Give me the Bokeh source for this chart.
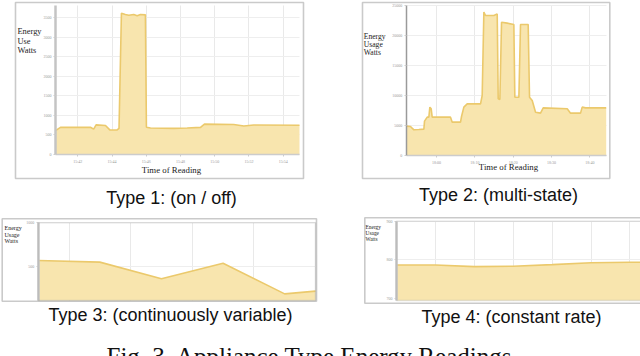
from bokeh.plotting import figure
from bokeh.models import BoxAnnotation, Label, FixedTicker, Range1d, GlobalInlineStyleSheet
from bokeh.layouts import column, row
from bokeh.embed import file_html
from bokeh.resources import INLINE

# ---------------- data ----------------
# Type 1 (on / off): minutes relative to first tick, watts
t1_minutes = [-1.30, -1.01, 0.74, 0.93, 1.07, 1.62, 1.87, 2.30, 2.41, 2.55, 2.78, 2.98, 3.27,
              3.47, 3.66, 3.95, 4.01, 4.25, 5.61, 6.39, 7.17, 7.40, 9.11, 9.70, 10.28, 12.95]
t1_watts = [610, 695, 700, 650, 760, 745, 630, 630, 670, 3620, 3590, 3570, 3590,
            3560, 3590, 3580, 700, 680, 670, 680, 695, 780, 770, 730, 755, 750]
t1_ticks = [0, 2, 4, 6, 8, 10, 12]
t1_tick_labels = ["15:42", "15:44", "15:46", "15:48", "15:50", "15:52", "15:54"]
t1_yticks = [0, 500, 1000, 1500, 2000, 2500, 3000, 3500]

# Type 2 (multi-state): minutes relative to 18:00, watts
t2_minutes = [-7.91, -6.78, -6.35, -5.91, -4.61, -3.30, -3.13, -2.43, -2.00, -1.74, -1.39, -1.13,
              3.65, 4.09, 6.26, 6.52, 7.13, 8.00, 11.48, 11.91, 12.35, 12.78, 14.96, 15.83,
              16.09, 16.52, 16.96, 18.43, 20.17, 20.43, 21.48, 21.91, 23.91, 24.26, 24.96,
              25.83, 27.13, 27.83, 34.09, 34.96, 37.57, 38.00, 38.87, 44.26]
t2_watts = [4900, 4830, 4550, 4280, 4330, 4390, 5720, 6390, 6390, 8060, 7780, 6390,
            6390, 5560, 5560, 6500, 8060, 8610, 8610, 10000, 23900, 23330, 23330, 23600,
            9440, 9330, 22220, 22060, 21830, 9720, 9720, 21830, 21830, 9720, 9170,
            7220, 7060, 7940, 7780, 7060, 7060, 8060, 7940, 7940]
t2_ticks = [0, 10, 20, 30, 40]
t2_tick_labels = ["18:00", "18:10", "18:20", "18:30", "18:40"]
t2_yticks = [0, 5000, 10000, 15000, 20000, 25000]

# Type 3 (continuously variable)
t3_x = [0.5, 1.5, 2.5, 3.5, 4.5, 5.0]
t3_watts = [569, 550, 359, 538, 187, 218]
t3_xticks = [1, 2, 3, 4, 5]
t3_yticks = [500, 1000]

# Type 4 (constant rate)
t4_x = [0, 1, 2, 3, 4, 5, 6, 7]
t4_watts = [787, 787, 783, 784, 788, 793, 794, 795]
t4_xticks = [1, 2, 3, 4, 5, 6]
t4_yticks = [700, 800, 900]

captions = ["Type 1: (on / off)", "Type 2: (multi-state)",
            "Type 3: (continuously variable)", "Type 4: (constant rate)"]
ylabel_1 = ["Energy", "Use", "Watts"]
ylabel_n = ["Energy", "Usage", "Watts"]
xlabel = "Time of Reading"
fig_caption = "Fig. 3. Appliance Type Energy Readings"

FILL = "#F8E5AE"
LINE = "#EBC96C"
SERIF = "Liberation Serif"
SANS = "Liberation Sans"


def panel(w, h, region, xr, yr):
    """Figure whose frame is the whole canvas; the chart's plot region is
    placed at pixel box `region` (left, right, top, bottom) by choosing ranges."""
    L, R, T, B = region
    x0, x1 = xr
    y0, y1 = yr
    sx = (x1 - x0) / (R - L)
    sy = (y1 - y0) / (B - T)
    p = figure(width=w, height=h,
               x_range=Range1d(x0 - L * sx, x1 + (w - R) * sx),
               y_range=Range1d(y0 - (h - B) * sy, y1 + T * sy),
               output_backend="svg", toolbar_location=None,
               min_border_left=0, min_border_right=0, min_border_top=0, min_border_bottom=0)
    p.outline_line_color = None
    p.border_fill_color = "white"
    p.background_fill_color = "white"
    p.xaxis.fixed_location = y0
    p.yaxis.fixed_location = x0
    p.xaxis.bounds = (x0, x1)
    p.yaxis.bounds = (y0, y1)
    for ax in (p.xaxis[0], p.yaxis[0]):
        ax.major_label_text_font_size = "4px"
        ax.major_label_text_color = "#999999"
        ax.major_label_text_font = SERIF
        ax.major_tick_in = 0
        ax.major_tick_out = 2
        ax.minor_tick_out = 0
        ax.minor_tick_in = 0
        ax.major_tick_line_color = "#cccccc"
        ax.major_label_standoff = 2
    p.yaxis.axis_line_color = "#c4c4c4"
    p.yaxis.axis_line_width = 2.5
    p.xaxis.axis_line_color = "#cccccc"
    p.xaxis.axis_line_width = 1.5
    p.xgrid.grid_line_color = "#e9e9e9"
    p.ygrid.grid_line_color = "#eeeeee"
    p.xgrid.bounds = (x0, x1)
    p.ygrid.bounds = (y0, y1)
    try:
        p.xgrid.cross_bounds = (y0, y1)
        p.ygrid.cross_bounds = (x0, x1)
    except Exception:
        pass
    return p


def area(p, x, y, base):
    p.varea(x=x, y1=[base] * len(x), y2=y, fill_color=FILL, fill_alpha=1)
    p.line(x, y, line_color=LINE, line_width=1.6)


def box(p, l, r, t, b, color="#505050", width=1.6):
    p.add_layout(BoxAnnotation(left=l, right=r, top=t, bottom=b,
                               left_units="canvas", right_units="canvas",
                               top_units="canvas", bottom_units="canvas",
                               fill_color=None, fill_alpha=0,
                               line_color=color, line_width=width))


def text(p, x, y, s, size, font, color="#222222", align="left"):
    p.add_layout(Label(x=x, y=y, x_units="canvas", y_units="canvas", text=s,
                       text_font=font, text_font_size=size, text_color=color,
                       text_align=align, text_baseline="alphabetic"))


# ---- panel 1 ----
r1 = (55, 299, 5, 154)
p1 = panel(330, 212, r1, (-1.30, 12.95), (0, 3820))
area(p1, t1_minutes, t1_watts, 0)
p1.xaxis.ticker = FixedTicker(ticks=t1_ticks)
p1.xaxis.major_label_overrides = dict(zip(t1_ticks, t1_tick_labels))
p1.yaxis.ticker = FixedTicker(ticks=t1_yticks)
box(p1, 15, 303, 2, 178)
for i, s in enumerate(ylabel_1):
    text(p1, 17, 31.3 + 9.4 * i, s, "8.4px", SERIF)
text(p1, 171, 169, xlabel, "8.8px", SERIF, align="center")
text(p1, 171, 197, captions[0], "18px", SANS, color="#111111", align="center")

# ---- panel 2 ----
r2 = (75.7, 275.7, 5, 155)
p2 = panel(310, 212, r2, (-7.91, 44.26), (0, 25000))
area(p2, t2_minutes, t2_watts, 0)
p2.xaxis.ticker = FixedTicker(ticks=t2_ticks)
p2.xaxis.major_label_overrides = dict(zip(t2_ticks, t2_tick_labels))
p2.yaxis.ticker = FixedTicker(ticks=t2_yticks)
p2.yaxis.axis_line_color = "#9a9a9a"
p2.yaxis.axis_line_width = 1.5
box(p2, 32, 279.3, 2, 178)
for i, s in enumerate(ylabel_n):
    text(p2, 33.3, 35.5 + 8 * i, s, "7.6px", SERIF)
text(p2, 178, 166, xlabel, "8.8px", SERIF, align="center")
text(p2, 168, 194, captions[1], "18px", SANS, color="#111111", align="center")

# ---- panel 3 ----
r3 = (37.7, 315, 10.3, 88)
p3 = panel(330, 118, r3, (0.5, 5.0), (111, 1000))
area(p3, t3_x, t3_watts, 111)
p3.xaxis.ticker = FixedTicker(ticks=t3_xticks)
p3.xaxis.visible = False
p3.yaxis.ticker = FixedTicker(ticks=t3_yticks)
box(p3, r3[0], r3[1], r3[2], r3[3], color="#aaaaaa", width=1.5)
box(p3, 1.7, 316, 6.3, 88.7)
for i, s in enumerate(ylabel_n):
    text(p3, 4, 15.3 + 6.7 * i, s, "6px", SERIF)
text(p3, 170, 102, captions[2], "18px", SANS, color="#111111", align="center")

# ---- panel 4 ----
r4 = (66, 310, 8.7, 88)
p4 = panel(310, 118, r4, (0, 6.27), (695.6, 900))
area(p4, t4_x, t4_watts, 695.6)
p4.xaxis.ticker = FixedTicker(ticks=t4_xticks)
p4.xaxis.visible = False
p4.yaxis.ticker = FixedTicker(ticks=t4_yticks)
box(p4, r4[0], r4[1] + 5, r4[2], r4[3], color="#aaaaaa", width=1.5)
box(p4, 34.3, 330, 5.3, 90.7)
for i, s in enumerate(ylabel_n):
    text(p4, 35, 14.5 + 5.8 * i, s, "5.4px", SERIF)
text(p4, 181, 104, captions[3], "18px", SANS, color="#111111", align="center")

# ---- figure caption strip ----
p5 = figure(width=640, height=26, x_range=Range1d(0, 1), y_range=Range1d(0, 1),
            output_backend="svg", toolbar_location=None,
            min_border_left=0, min_border_right=0, min_border_top=0, min_border_bottom=0)
p5.axis.visible = False
p5.grid.visible = False
p5.outline_line_color = None
text(p5, 106, 25.5, fig_caption, "25px", SERIF, color="#111111")

layout = column(row(p1, p2), row(p3, p4), p5,
                stylesheets=[GlobalInlineStyleSheet(css="body { margin: 0 !important; overflow: hidden; }")])

open("out.html", "w").write(file_html(layout, INLINE))
